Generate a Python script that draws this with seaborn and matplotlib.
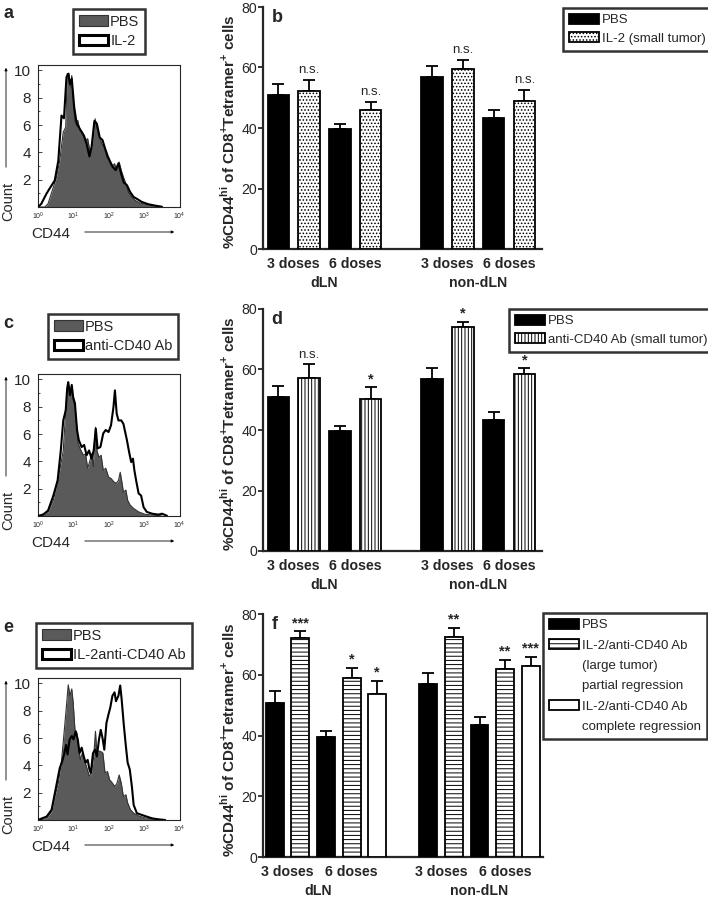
import numpy as np
import pandas as pd
import matplotlib
matplotlib.use("Agg")
import matplotlib.pyplot as plt
import seaborn as sns
from matplotlib.patches import Patch
from matplotlib.ticker import MultipleLocator, LogLocator, NullFormatter, FixedLocator

# ---------------- flow histograms (CD44 in decades, count) ----------------
a_pbs_log = [0.19, 0.28, 0.43, 0.52, 0.61, 0.71, 0.78, 0.82, 0.87, 0.91, 0.95, 0.99, 1.04, 1.12,
             1.18, 1.25, 1.32, 1.40, 1.47, 1.53, 1.61, 1.66, 1.72, 1.80, 1.87, 1.94, 2.00, 2.08,
             2.16, 2.23, 2.29, 2.35, 2.41, 2.48, 2.55, 2.65, 2.74, 2.88, 3.03, 3.22, 3.40]
a_pbs_n = [0, 0.24, 1.46, 2.2, 3.41, 5.49, 5.85, 9.76, 9.8, 8.78, 9.63, 7.8, 6.22, 6.34,
           5.61, 5.49, 4.88, 5.0, 4.02, 4.51, 6.46, 5.85, 5.24, 4.63, 4.39, 3.66, 3.41, 2.93,
           3.17, 2.68, 3.29, 2.68, 2.2, 1.71, 1.1, 0.73, 0.49, 0.29, 0.2, 0.1, 0.02]
a_il2_log = [0.09, 0.24, 0.36, 0.47, 0.57, 0.66, 0.73, 0.80, 0.85, 0.90, 0.95, 1.02, 1.09, 1.15,
             1.23, 1.30, 1.37, 1.45, 1.51, 1.59, 1.66, 1.74, 1.82, 1.89, 1.97, 2.04, 2.12, 2.19,
             2.27, 2.35, 2.42, 2.51, 2.60, 2.70, 2.79, 2.93, 3.12, 3.31, 3.50]
a_il2_n = [0.24, 1.0, 1.5, 1.95, 3.4, 6.7, 6.5, 9.5, 9.75, 9.0, 9.4, 7.3, 6.1, 5.85,
           5.5, 5.2, 4.6, 3.7, 4.4, 6.3, 6.1, 5.1, 4.9, 4.3, 3.7, 3.3, 2.9, 2.7,
           3.2, 2.4, 1.8, 1.6, 1.1, 0.73, 0.6, 0.37, 0.2, 0.1, 0.02]

c_pbs_log = [0.28, 0.43, 0.52, 0.61, 0.71, 0.78, 0.82, 0.85, 0.90, 0.95, 0.99, 1.04, 1.09, 1.13,
             1.21, 1.28, 1.34, 1.40, 1.47, 1.51, 1.56, 1.62, 1.66, 1.72, 1.78, 1.84, 1.91, 1.99,
             2.06, 2.14, 2.21, 2.27, 2.32, 2.36, 2.41, 2.48, 2.53, 2.60, 2.70, 2.84, 3.03, 3.31, 3.50]
c_pbs_n = [0.3, 1.15, 2.25, 3.35, 4.8, 7.75, 9.2, 9.8, 9.0, 9.45, 8.5, 8.0, 6.5, 5.3,
           4.8, 4.45, 4.55, 3.5, 4.1, 4.55, 3.6, 6.5, 4.8, 4.3, 4.45, 3.35, 3.5, 2.85,
           2.75, 2.5, 2.4, 2.6, 3.2, 2.6, 1.75, 1.9, 1.15, 0.8, 0.55, 0.3, 0.12, 0.05, 0]
c_cd40_log = [0.14, 0.28, 0.43, 0.55, 0.64, 0.71, 0.78, 0.82, 0.85, 0.90, 0.95, 0.99, 1.04, 1.10,
              1.15, 1.23, 1.30, 1.37, 1.44, 1.51, 1.57, 1.63, 1.68, 1.76, 1.84, 1.91, 1.99, 2.06,
              2.13, 2.17, 2.22, 2.27, 2.35, 2.41, 2.46, 2.51, 2.57, 2.63, 2.68, 2.72, 2.77, 2.84,
              2.91, 2.98, 3.07, 3.22, 3.40, 3.50, 3.64]
c_cd40_n = [0.1, 0.4, 1.5, 2.6, 4.8, 7.0, 7.75, 9.35, 9.8, 8.85, 9.6, 8.7, 8.25, 6.3,
            5.55, 5.05, 5.2, 4.45, 4.8, 4.2, 4.8, 6.4, 4.95, 5.05, 6.05, 6.3, 6.15, 6.65,
            8.0, 9.2, 7.5, 7.0, 7.0, 6.75, 6.15, 5.55, 4.7, 3.95, 4.2, 3.35, 2.6, 1.65,
            1.5, 0.65, 0.3, 0.17, 0.1, 0.17, 0.02]

e_pbs_log = [0.24, 0.38, 0.47, 0.57, 0.66, 0.74, 0.80, 0.85, 0.90, 0.95, 0.99, 1.04, 1.09, 1.13,
             1.19, 1.25, 1.32, 1.39, 1.45, 1.51, 1.57, 1.62, 1.66, 1.72, 1.78, 1.83, 1.89, 1.96,
             2.02, 2.10, 2.17, 2.23, 2.29, 2.35, 2.41, 2.48, 2.53, 2.61, 2.70, 2.84, 3.03, 3.31, 3.50]
e_pbs_n = [0.1, 0.6, 1.7, 2.7, 4.3, 6.6, 8.35, 9.9, 9.1, 9.6, 8.6, 6.6, 6.4, 5.65,
           4.4, 4.9, 4.3, 3.7, 3.2, 3.45, 4.65, 6.5, 4.9, 5.05, 5.0, 4.9, 3.45, 3.55,
           2.95, 2.7, 2.45, 2.7, 3.3, 2.7, 1.7, 1.85, 1.25, 0.75, 0.5, 0.3, 0.15, 0.07, 0]
e_combo_log = [0.09, 0.24, 0.38, 0.49, 0.61, 0.68, 0.74, 0.79, 0.83, 0.89, 0.95, 1.00, 1.06, 1.12,
               1.17, 1.23, 1.29, 1.34, 1.40, 1.45, 1.49, 1.55, 1.61, 1.66, 1.72, 1.77, 1.82, 1.87,
               1.93, 1.99, 2.04, 2.10, 2.16, 2.20, 2.27, 2.32, 2.36, 2.42, 2.48, 2.53, 2.59, 2.65,
               2.70, 2.79, 2.93, 3.07, 3.22, 3.40, 3.59]
e_combo_n = [0.1, 0.25, 0.75, 2.2, 3.8, 4.3, 4.9, 5.5, 4.8, 5.9, 6.15, 5.9, 6.5, 5.9,
             4.9, 5.3, 4.65, 4.2, 4.4, 3.7, 3.45, 4.9, 5.15, 4.65, 5.9, 6.6, 6.0, 5.15,
             7.1, 7.75, 8.25, 9.1, 9.35, 8.7, 9.1, 9.85, 8.85, 7.0, 5.4, 4.2, 3.7, 2.45,
             1.1, 0.5, 0.37, 0.25, 0.12, 0.05, 0]

# ---------------- bar data: %CD44hi (3 doses dLN, 6 doses dLN, 3 doses non-dLN, 6 doses non-dLN) ----------------
pbs_pct = [50.8, 39.6, 57.0, 43.3]
pbs_sem = [3.9, 1.8, 3.6, 2.7]
il2_pct = [52.1, 45.8, 59.5, 48.8]
il2_sem = [3.9, 2.9, 3.1, 3.9]
il2_sig = ["n.s.", "n.s.", "n.s.", "n.s."]
cd40_pct = [57.3, 50.4, 74.2, 58.6]
cd40_sem = [4.4, 3.8, 1.6, 1.8]
cd40_sig = ["n.s.", "*", "*", "*"]
partial_pct = [72.0, 58.8, 72.5, 61.8]
partial_sem = [2.4, 3.5, 3.0, 3.2]
partial_sig = ["***", "*", "**", "**"]
complete_pct = [53.7, 62.9]          # 6 doses only (dLN, non-dLN)
complete_sem = [4.3, 3.1]
complete_sig = ["*", "***"]
dose_labels = ["3 doses", "6 doses", "3 doses", "6 doses"]
node_labels = ["dLN", "non-dLN"]

# ---------------- style ----------------
sns.set_style("ticks")
FONT = "Liberation Sans"
plt.rcParams["font.family"] = [FONT, "DejaVu Sans"]
plt.rcParams["mathtext.fontset"] = "custom"
plt.rcParams["mathtext.rm"] = FONT
plt.rcParams["mathtext.bf"] = FONT + ":bold"
plt.rcParams["hatch.linewidth"] = 0.7
plt.rcParams["hatch.color"] = "black"

W, H = 708, 897
fig = plt.figure(figsize=(W / 100, H / 100), dpi=100)
GRAY = "#5a5a5a"


def box(l, t, r, b):
    return fig.add_axes([l / W, 1 - b / H, (r - l) / W, (b - t) / H])


def fxy(x, y):
    return (x / W, 1 - y / H)


def hist_panel(ax, pbs_log, pbs_n, oth_log, oth_n, labels, leg_xy, top, bottom, letter):
    x0 = 10 ** np.r_[0.0, pbs_log]
    y0 = np.r_[0.0, pbs_n]
    x1 = 10 ** np.r_[0.0, oth_log]
    y1 = np.r_[0.0, oth_n]
    ax.set_xscale("log")
    ax.fill_between(x1, y1, color="white", lw=0, zorder=1)
    ax.fill_between(x0, y0, color=GRAY, lw=0, zorder=2)
    sns.lineplot(x=x0, y=y0, color="#333333", lw=0.8, sort=False, estimator=None, ax=ax, zorder=3)
    sns.lineplot(x=x1, y=y1, color="black", lw=1.5, sort=False, estimator=None, ax=ax, zorder=4)
    ax.set_xlim(0.99, 10 ** 4.01)
    ax.set_ylim(0, 10.4)
    for s in ax.spines.values():
        s.set_linewidth(0.8)
        s.set_visible(True)
    ax.yaxis.set_major_locator(FixedLocator([2, 4, 6, 8, 10]))
    ax.yaxis.set_minor_locator(MultipleLocator(1))
    ax.xaxis.set_major_locator(FixedLocator([1, 10, 100, 1000, 10000]))
    ax.xaxis.set_minor_locator(LogLocator(base=10, subs=np.arange(2, 10)))
    ax.xaxis.set_minor_formatter(NullFormatter())
    ax.set_xticklabels([r"$10^{0}$", r"$10^{1}$", r"$10^{2}$", r"$10^{3}$", r"$10^{4}$"], fontsize=5)
    ax.tick_params(axis="both", which="both", direction="in", width=0.6)
    ax.tick_params(axis="both", which="major", length=3)
    ax.tick_params(axis="both", which="minor", length=1.5)
    ax.tick_params(axis="y", labelsize=11, pad=5)
    ax.tick_params(axis="x", pad=3)
    ax.set_xlabel("")
    ax.set_ylabel("")
    handles = [Patch(facecolor=GRAY, edgecolor="#333333", lw=0.8),
               Patch(facecolor="white", edgecolor="black", lw=2.2)]
    leg = fig.legend(handles, labels, loc="upper left", bbox_to_anchor=fxy(*leg_xy),
                     bbox_transform=fig.transFigure, fontsize=10.5, frameon=True, fancybox=False,
                     borderpad=0.4, labelspacing=0.35, handlelength=2.0, handleheight=0.75,
                     handletextpad=0.15, borderaxespad=0)
    leg.get_frame().set_edgecolor("black")
    leg.get_frame().set_linewidth(1.8)
    # axis captions with arrows
    fig.text(*fxy(8, bottom - 6), "Count", rotation=90, ha="center", va="center", fontsize=10.5)
    ax.annotate("", xy=fxy(6, top), xytext=fxy(6, bottom - 37), xycoords="figure fraction",
                textcoords="figure fraction", annotation_clip=False,
                arrowprops=dict(arrowstyle="-|>", lw=0.6, color="black", mutation_scale=4))
    fig.text(*fxy(31, bottom + 27), "CD44", ha="left", va="center", fontsize=11)
    ax.annotate("", xy=fxy(177, bottom + 25), xytext=fxy(82, bottom + 25), xycoords="figure fraction",
                textcoords="figure fraction", annotation_clip=False,
                arrowprops=dict(arrowstyle="-|>", lw=0.6, color="black", mutation_scale=4))
    fig.text(*fxy(3, top - 51), letter, ha="left", va="center", fontsize=13, fontweight="bold")


def bar_panel(ax, series, pos, vals, errs, sigs, colors, hatches, tick_pos, group_pos, xlim,
              leg_labels, leg_xy, leg_spacing, letter):
    rows = []
    for s in series:
        for p, v in zip(pos[s], vals[s]):
            rows.append((p, v, s))
    df = pd.DataFrame(rows, columns=["pos", "pct", "group"])
    sns.barplot(data=df, x="pos", y="pct", hue="group", hue_order=series, palette=colors,
                native_scale=True, dodge=False, width=0.7, edgecolor="black", linewidth=1.3,
                errorbar=None, legend=False, ax=ax, zorder=3)
    lookup = dict(zip(df["pos"], df["group"]))
    for patch in ax.patches:
        c = patch.get_x() + patch.get_width() / 2
        key = min(lookup, key=lambda p: abs(p - c))
        patch.set_hatch(hatches[lookup[key]])
    for s in series:
        v = np.array(vals[s])
        e = np.array(errs[s])
        ax.errorbar(pos[s], v, yerr=[np.zeros_like(e), e], fmt="none", ecolor="black",
                    elinewidth=1.3, capsize=4.2, capthick=1.3, zorder=2)
        if s in sigs:
            for p, vv, ee, t in zip(pos[s], v, e, sigs[s]):
                if t == "n.s.":
                    ax.text(p, vv + ee + 1.2, t, ha="center", va="bottom", fontsize=9.5)
                else:
                    ax.text(p, vv + ee + 0.3, t, ha="center", va="bottom", fontsize=10.5,
                            fontweight="bold")
    ax.set_xlim(*xlim)
    ax.set_ylim(0, 80)
    ax.set_yticks([0, 20, 40, 60, 80])
    ax.set_xticks(tick_pos)
    ax.set_xticklabels(dose_labels, fontsize=10.2, fontweight="bold")
    ax.tick_params(axis="x", length=0, pad=6)
    ax.tick_params(axis="y", labelsize=10.2, length=3.5, width=1.3, pad=0.6)
    for side in ["top", "right"]:
        ax.spines[side].set_visible(False)
    for side in ["left", "bottom"]:
        ax.spines[side].set_linewidth(1.6)
    ax.set_xlabel("")
    ax.set_ylabel("")
    for gp, lab in zip(group_pos, node_labels):
        ax.annotate(lab, xy=(gp, 0), xycoords=ax.get_xaxis_transform(), xytext=(0, -34 * 0.72),
                    textcoords="offset points", ha="center", va="center", fontsize=10.2,
                    fontweight="bold", annotation_clip=False)
    ax.text(0.03, 0.955, letter, transform=ax.transAxes, ha="left", va="center", fontsize=13,
            fontweight="bold")
    # y caption
    bb = ax.get_position()
    fig.text(228 / W, bb.y0 + bb.height / 2 - 4 / H,
             r"%CD44$^{\mathbf{hi}}$ of CD8$^{\mathbf{+}}$Tetramer$^{\mathbf{+}}$ cells",
             rotation=90, ha="center", va="center", fontsize=11, fontweight="bold")
    # legend
    handles, labels = [], []
    for lab in leg_labels:
        if lab[1] is None:
            handles.append(Patch(facecolor="none", edgecolor="none"))
        else:
            handles.append(Patch(facecolor=colors[lab[1]], edgecolor="black", lw=1.3,
                                 hatch=hatches[lab[1]]))
        labels.append(lab[0])
    leg = fig.legend(handles, labels, loc="upper left", bbox_to_anchor=fxy(*leg_xy),
                     bbox_transform=fig.transFigure, fontsize=9.5, frameon=True, fancybox=False,
                     borderpad=0.45, labelspacing=leg_spacing, handlelength=2.3, handleheight=0.75,
                     handletextpad=0.22, borderaxespad=0)
    leg.get_frame().set_edgecolor("black")
    leg.get_frame().set_linewidth(1.8)


# ---------------- panels a, c, e ----------------
ax_a = box(38, 65, 180, 207)
hist_panel(ax_a, a_pbs_log, a_pbs_n, a_il2_log, a_il2_n, ["PBS", "IL-2"], (73, 9), 65, 207, "a")
ax_c = box(38, 374, 180, 516)
hist_panel(ax_c, c_pbs_log, c_pbs_n, c_cd40_log, c_cd40_n, ["PBS", "anti-CD40 Ab"], (48, 314), 374, 516, "c")
ax_e = box(38, 678, 180, 820)
hist_panel(ax_e, e_pbs_log, e_pbs_n, e_combo_log, e_combo_n, ["PBS", "IL-2anti-CD40 Ab"], (36, 623), 678, 820, "e")

# ---------------- panels b, d, f ----------------
two_pos = {"pbs": [0, 2, 5, 7], "trt": [1, 3, 6, 8]}
ax_b = box(263, 7, 542, 249)
bar_panel(ax_b, ["pbs", "trt"], two_pos,
          {"pbs": pbs_pct, "trt": il2_pct}, {"pbs": pbs_sem, "trt": il2_sem}, {"trt": il2_sig},
          {"pbs": "black", "trt": "white"}, {"pbs": "", "trt": "....."},
          [0.5, 2.5, 5.5, 7.5], [1.5, 6.5], (-0.5, 8.57),
          [("PBS", "pbs"), ("IL-2 (small tumor)", "trt")], (563, 8), 0.45, "b")

ax_d = box(263, 309, 542, 551)
bar_panel(ax_d, ["pbs", "trt"], two_pos,
          {"pbs": pbs_pct, "trt": cd40_pct}, {"pbs": pbs_sem, "trt": cd40_sem}, {"trt": cd40_sig},
          {"pbs": "black", "trt": "white"}, {"pbs": "", "trt": "|||||"},
          [0.5, 2.5, 5.5, 7.5], [1.5, 6.5], (-0.5, 8.57),
          [("PBS", "pbs"), ("anti-CD40 Ab (small tumor)", "trt")], (509, 309), 0.45, "d")

three_pos = {"pbs": [0, 2, 6, 8], "part": [1, 3, 7, 9], "comp": [4, 10]}
ax_f = box(263, 614, 543, 857)
bar_panel(ax_f, ["pbs", "part", "comp"], three_pos,
          {"pbs": pbs_pct, "part": partial_pct, "comp": complete_pct},
          {"pbs": pbs_sem, "part": partial_sem, "comp": complete_sem},
          {"part": partial_sig, "comp": complete_sig},
          {"pbs": "black", "part": "white", "comp": "white"}, {"pbs": "", "part": "----", "comp": ""},
          [0.5, 3, 6.5, 9], [1.7, 8], (-0.46, 10.48),
          [("PBS", "pbs"), ("IL-2/anti-CD40 Ab", "part"), ("(large tumor)", None),
           ("partial regression", None), ("IL-2/anti-CD40 Ab", "comp"), ("complete regression", None)],
          (543, 613), 0.6, "f")

fig.savefig("out.png", dpi=100)
plt.close(fig)
